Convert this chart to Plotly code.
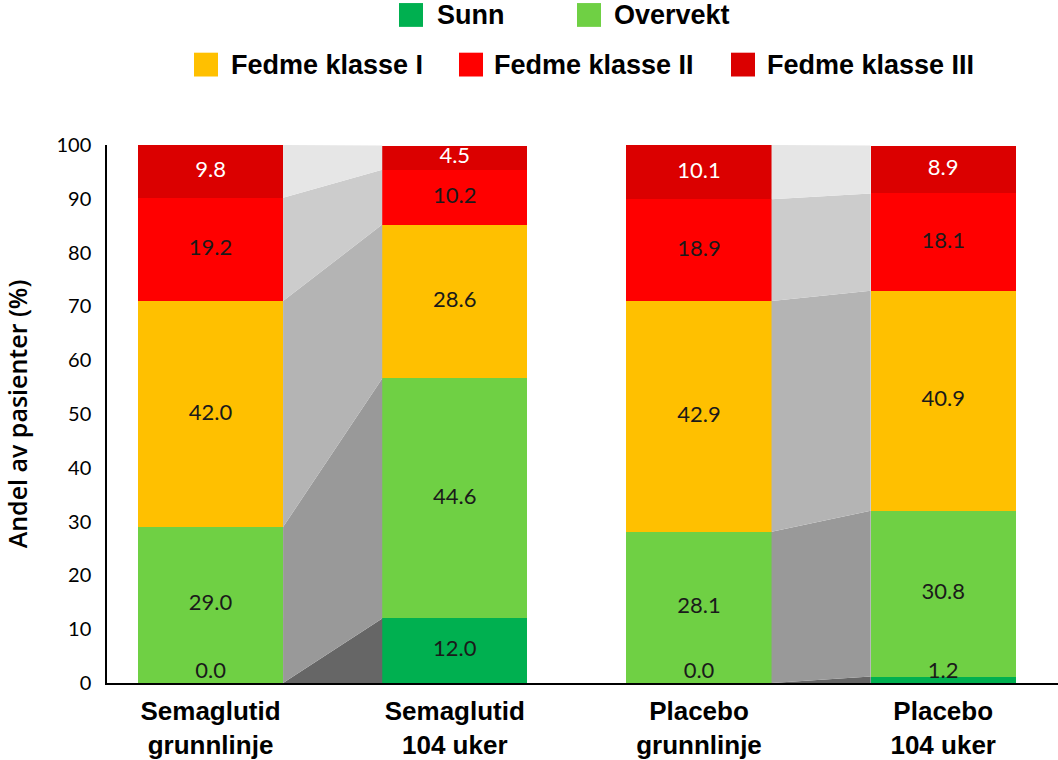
import plotly.graph_objects as go

# ---- data ----
groups = ["Semaglutid<br>grunnlinje", "Semaglutid<br>104 uker", "Placebo<br>grunnlinje", "Placebo<br>104 uker"]
categories = ["Sunn", "Overvekt", "Fedme klasse I", "Fedme klasse II", "Fedme klasse III"]
sunn = [0.0, 12.0, 0.0, 1.2]
overvekt = [29.0, 44.6, 28.1, 30.8]
fedme1 = [42.0, 28.6, 42.9, 40.9]
fedme2 = [19.2, 10.2, 18.9, 18.1]
fedme3 = [9.8, 4.5, 10.1, 8.9]
series = [sunn, overvekt, fedme1, fedme2, fedme3]
flow_pairs = [(0, 1), (2, 3)]

# ---- style ----
bar_colors = ["#00b050", "#6fd044", "#ffc000", "#ff0000", "#db0000"]
flow_colors = ["#666666", "#999999", "#b4b4b4", "#cccccc", "#e6e6e6"]
text_colors = ["#1a1a1a", "#1a1a1a", "#1a1a1a", "#1a1a1a", "#ffffff"]
W = 0.594
xpos = list(range(len(groups)))

# cumulative bases
cum = []
for g in range(len(groups)):
    c = [0.0]
    for s in series:
        c.append(c[-1] + s[g])
    cum.append(c)

fig = go.Figure()

# flows
for a, b in flow_pairs:
    x0 = a + W / 2
    x1 = b - W / 2
    for k in range(len(series)):
        lo0, hi0 = cum[a][k], cum[a][k + 1]
        lo1, hi1 = cum[b][k], cum[b][k + 1]
        fig.add_trace(go.Scatter(
            x=[x0, x1, x1, x0, x0], y=[lo0, lo1, hi1, hi0, lo0],
            mode="lines", fill="toself", fillcolor=flow_colors[k],
            line=dict(width=0), hoverinfo="skip", showlegend=False))

# bars
for k, s in enumerate(series):
    fig.add_trace(go.Bar(x=xpos, y=s, width=W, name=categories[k],
                         marker=dict(color=bar_colors[k], line=dict(width=0)),
                         showlegend=False))

# value labels
for k, s in enumerate(series):
    ys = [max(cum[g][k] + s[g] / 2, 2.0) for g in range(len(groups))]
    fig.add_trace(go.Scatter(
        x=xpos, y=ys, mode="text", text=[f"{v:.1f}" for v in s],
        textfont=dict(family="Lato", size=22, color=text_colors[k]),
        hoverinfo="skip", showlegend=False))

# manual legend (paper coords)
L, T, PW, PH = 107, 145, 951, 542
def px(x):
    return (x - L) / PW
def py(y):
    return (T + PH - y) / PH

legend_items = [
    (0, 399, 2, 435),
    (1, 577, 2, 612),
    (2, 194, 52, 229),
    (3, 459, 52, 492),
    (4, 731, 52, 765),
]
for k, sx, sy, tx in legend_items:
    fig.add_shape(type="rect", xref="paper", yref="paper",
                  x0=px(sx), x1=px(sx + 24), y0=py(sy + 24), y1=py(sy),
                  fillcolor=bar_colors[k], line=dict(width=0))
    fig.add_annotation(xref="paper", yref="paper", x=px(tx), y=py(sy + 12),
                       text=f"<b>{categories[k]}</b>", showarrow=False,
                       xanchor="left", yanchor="middle",
                       font=dict(family="Liberation Sans", size=27, color="#000000"))

fig.update_layout(
    barmode="stack",
    width=1058, height=760,
    margin=dict(l=L, r=0, t=T, b=760 - T - PH),
    plot_bgcolor="white", paper_bgcolor="white",
    showlegend=False,
)
fig.update_xaxes(
    range=[-0.424, 3.47], tickvals=xpos, ticktext=[f"<b>{g}</b>" for g in groups],
    tickfont=dict(family="Liberation Sans", size=26, color="#000000"),
    showline=True, linecolor="#000000", linewidth=1.5, showgrid=False, zeroline=False,
    ticks="", ticklabelstandoff=4,
)
fig.update_yaxes(
    range=[0, 100], dtick=10, showline=True, linecolor="#000000", linewidth=1.5,
    showgrid=False, zeroline=False, ticks="",
    tickfont=dict(family="Lato", size=20, color="#000000"), ticklabelstandoff=10,
    title=dict(text="Andel av pasienter (%)", standoff=22,
               font=dict(family="Open Sans", size=25, weight=600, color="#000000")),
)

fig.write_html("out.html")
